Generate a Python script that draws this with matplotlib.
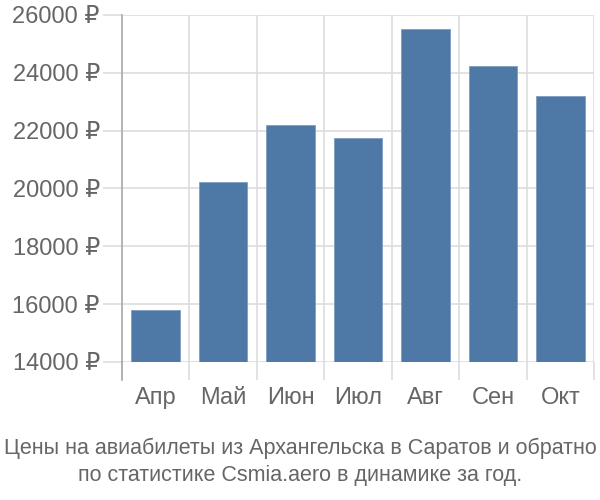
import numpy as np
import matplotlib.pyplot as plt

plt.rcParams['font.family'] = ['Liberation Sans', 'DejaVu Sans']

months = ['Апр', 'Май', 'Июн', 'Июл', 'Авг', 'Сен', 'Окт']
prices = [15800, 20230, 22200, 21730, 25520, 24240, 23200]
yticks = [14000, 16000, 18000, 20000, 22000, 24000, 26000]
title = 'Цены на авиабилеты из Архангельска в Саратов и обратно\nпо статистике Csmia.aero в динамике за год.'

fig = plt.figure(figsize=(6, 5), dpi=100)
ax = fig.add_axes([0.2033, 0.276, 0.7867, 0.694])

x = np.arange(len(months))
ax.bar(x, prices, width=0.72, bottom=0, color='#4e79a7', edgecolor='#7f9dc2',
       linewidth=0.6, zorder=3)

ax.set_ylim(14000, 26000)
ax.set_xlim(-0.5, len(months) - 0.5)
ax.set_yticks(yticks)
ax.set_yticklabels([f'{v} ₽' for v in yticks])
ax.set_xticks(x)
ax.set_xticklabels(months)
ax.set_xticks(np.arange(len(months) + 1) - 0.5, minor=True)

grid = '#dddddd'
ax.grid(axis='y', color=grid, linewidth=1.2, zorder=0)
ax.grid(axis='x', which='minor', color=grid, linewidth=1.2, zorder=0)
for s in ['top', 'right', 'bottom']:
    ax.spines[s].set_visible(False)
ax.spines['left'].set_color('#aaaaaa')
ax.spines['left'].set_linewidth(1.2)
ax.spines['left'].set_bounds(14000, 26000)

ax.tick_params(axis='y', length=14, width=1.2, color=grid, labelsize=17,
               labelcolor='#666666', pad=2)
ax.tick_params(axis='x', which='major', length=0, labelsize=17,
               labelcolor='#666666', pad=18)
ax.tick_params(axis='x', which='minor', length=13, width=1.2, color=grid)

# extend left axis line below the plot
ax.plot([-0.5, -0.5], [14000, 13380], color='#aaaaaa', lw=1.2, clip_on=False, zorder=4)

fig.text(0.5, 0.028, title, ha='center', va='bottom', fontsize=15.5,
         color='#666666', linespacing=1.35)

plt.savefig('out.png')
